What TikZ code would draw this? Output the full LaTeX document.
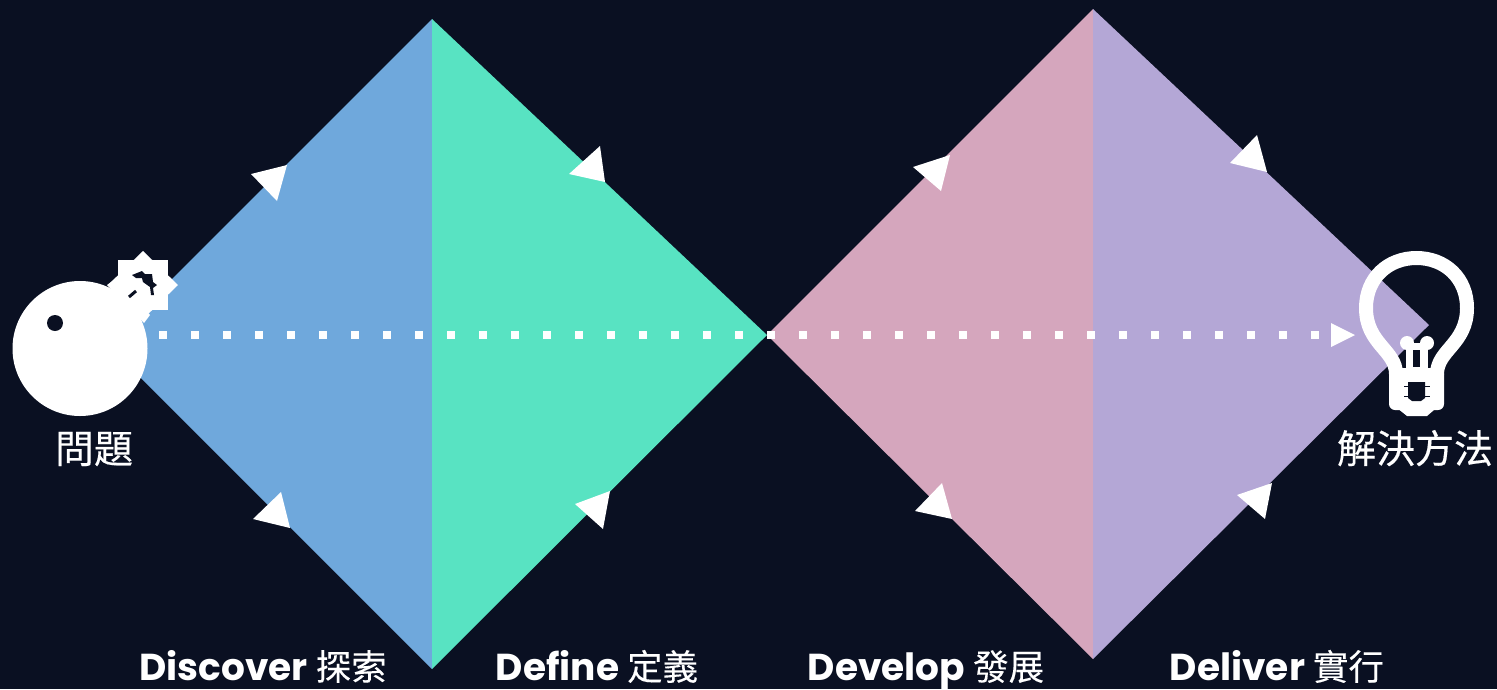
\documentclass[tikz,border=0pt]{standalone}
\usepackage{fontspec}
\setmainfont{Poppins}
\newfontfamily\cjk{Noto Sans CJK TC}
\newfontfamily\cjkm[FakeBold=0.35]{Noto Sans CJK TC}
\newfontfamily\cjkp[FakeBold=0.15]{Noto Sans CJK TC}
\definecolor{bg}{HTML}{0A1022}
\definecolor{cblue}{HTML}{6FA8DC}
\definecolor{cgreen}{HTML}{58E3C2}
\definecolor{cpink}{HTML}{D5A6BD}
\definecolor{cpurple}{HTML}{B4A7D6}
\tikzset{
  x=1pt,y=-1pt,
  tip/.style={fill=white,draw=none},
  phase/.style={text=white,font=\fontsize{37.5}{44}\selectfont\bfseries,inner sep=0pt,anchor=base},
  sidecap/.style={text=white,font=\fontsize{39}{46}\selectfont\cjkm,inner sep=0pt,anchor=base},
}
\newcommand{\pcjk}[1]{{\fontsize{35.5}{42}\selectfont\mdseries\cjkp #1}}
\begin{document}
\begin{tikzpicture}
\fill[bg] (0,0) rectangle (1497,689);
\useasboundingbox (0,0) rectangle (1497,689);
\fill[cblue] (432,19) -- (432,669) -- (98,335) -- (116,335) -- cycle;
\fill[cgreen] (432,19) -- (767,335) -- (432,669) -- cycle;
\fill[cpink] (1093,9) -- (1093,659) -- (767,335) -- cycle;
\fill[cpurple] (1093,9) -- (1429,325) -- (1093,659) -- cycle;
% corner arrowheads
\fill[tip] (251,174) -- (287,165) -- (277,201) -- cycle;
\fill[tip] (600,146) -- (569,174) -- (605,182) -- cycle;
\fill[tip] (950,155) -- (913,167) -- (941,191) -- cycle;
\fill[tip] (1257,135) -- (1230,163) -- (1267,172) -- cycle;
\fill[tip] (281,492) -- (253,519) -- (290,528) -- cycle;
\fill[tip] (610,491) -- (575,504) -- (603,529) -- cycle;
\fill[tip] (942,483) -- (915,511) -- (952,519) -- cycle;
\fill[tip] (1272,483) -- (1237,495) -- (1265,519) -- cycle;
% dotted axis
\coordinate (axisA) at (159,335);
\coordinate (axisB) at (1331,335);
\draw[white,line width=8pt,dash pattern=on 8pt off 24pt] (axisA) -- (axisB);
\fill[white] (1331,323) -- (1355,335) -- (1331,347) -- cycle;
% bomb
\fill[white] (80,348.5) circle (67.5);
\fill[bg] (55,323) circle (8);
\fill[white] (107,285) -- (115,279) -- (150,315) -- (144,323) -- cycle;
\fill[white] (118,260) rectangle (168,310);
\fill[white] (143,251) -- (178,285) -- (143,319) -- (108,285) -- cycle;
\fill[bg] (132,275) -- (142,271) -- (145,274) -- (152,274) -- (153,282) -- (157,285) -- (153,288) -- (154,295) -- (151,295) -- (150,287) -- (143,282) -- (142,278) -- (136,278) -- cycle;
\draw[bg,line width=3pt] (129,297) -- (136,291);
% bulb
\draw[white,line width=14pt] (1396,374) .. controls (1396,350) and (1366,344) .. (1366,308) .. controls (1366,278) and (1388,258) .. (1416.5,258) .. controls (1445,258) and (1467,278) .. (1467,308) .. controls (1467,344) and (1437,350) .. (1437,374);
\fill[white,rounded corners=6pt] (1389,368) rectangle (1444,410);
\fill[white] (1392,404) -- (1441,404) -- (1427,416) -- (1407,416) -- cycle;
\fill[white] (1407,343) circle (7);
\fill[white] (1427,343) circle (7);
\fill[white] (1406,343) rectangle (1428,375);
\fill[bg] (1413,350) rectangle (1420,367);
\fill[bg] (1408,382) -- (1425,382) -- (1425,398) -- (1421,401) -- (1412,401) -- (1408,398) -- cycle;
\draw[bg,line width=1pt] (1404,386) -- (1430,386) (1404,396) -- (1430,396);
% labels
\node[sidecap] (n1) at (94,463) {問題};
\node[sidecap] (n2) at (1415,463) {解決方法};
\node[phase] (p1) at (263,680) {Discover \pcjk{探索}};
\node[phase] (p2) at (597,680) {Define \pcjk{定義}};
\node[phase] (p3) at (926,680) {Develop \pcjk{發展}};
\node[phase] (p4) at (1277,680) {Deliver \pcjk{實行}};
\end{tikzpicture}
\end{document}
